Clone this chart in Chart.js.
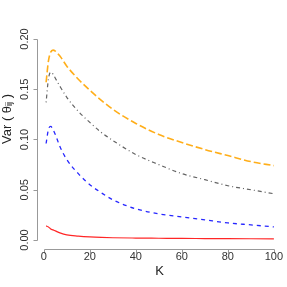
<!DOCTYPE html>
<html>
<head>
<meta charset="utf-8">
<script src="https://cdn.jsdelivr.net/npm/chart.js@4/dist/chart.umd.min.js"></script>
<style>
  html, body { margin: 0; padding: 0; background: #fff; }
  #wrap { width: 287px; height: 287px; }
</style>
</head>
<body>
<div id="wrap"><canvas id="chartVar" width="287" height="287"></canvas></div>
<script>
// K values shared by every series
var kValues = [1, 2, 3, 4, 5, 7, 10, 15, 20, 25, 30, 40, 50, 60, 70, 80, 90, 100];

var varOrange = [0.157, 0.178, 0.187, 0.189, 0.188, 0.183, 0.173, 0.160, 0.149, 0.139, 0.130, 0.116, 0.105, 0.097, 0.090, 0.084, 0.078, 0.074];
var varGray   = [0.137, 0.160, 0.167, 0.165, 0.161, 0.153, 0.142, 0.128, 0.117, 0.107, 0.099, 0.085, 0.075, 0.066, 0.060, 0.054, 0.050, 0.046];
var varBlue   = [0.096, 0.110, 0.113, 0.110, 0.105, 0.093, 0.080, 0.066, 0.055, 0.047, 0.040, 0.031, 0.026, 0.023, 0.020, 0.017, 0.015, 0.013];
var varRed    = [0.014, 0.013, 0.011, 0.010, 0.009, 0.007, 0.005, 0.0038, 0.003, 0.0025, 0.0022, 0.0019, 0.0017, 0.0015, 0.0014, 0.0013, 0.0012, 0.0011];

var xTicks = [0, 20, 40, 60, 80, 100];
var yTicks = [0.00, 0.05, 0.10, 0.15, 0.20];

function toPoints(values) {
    return kValues.map(function (k, i) { return { x: k, y: values[i] }; });
}

function series(values, color, width, dash) {
    return {
        data: toPoints(values),
        borderColor: color,
        borderWidth: width,
        borderDash: dash,
        pointRadius: 0,
        fill: false,
        cubicInterpolationMode: 'monotone'
    };
}

// R style axes: detached lines spanning the tick range, rotated y labels
var rAxes = {
    id: 'rAxes',
    afterDraw: function (chart) {
        var ctx = chart.ctx;
        var xs = chart.scales.x;
        var ys = chart.scales.y;
        var area = chart.chartArea;
        var axisY = area.bottom + 1;
        var axisX = area.left;

        ctx.save();
        ctx.strokeStyle = '#999';
        ctx.lineWidth = 1;
        ctx.fillStyle = '#333';
        ctx.font = '11px "Liberation Sans", Arial, sans-serif';

        // x axis
        var x0 = Math.round(xs.getPixelForValue(xTicks[0])) + 0.5;
        var x1 = Math.round(xs.getPixelForValue(xTicks[xTicks.length - 1])) + 0.5;
        ctx.beginPath();
        ctx.moveTo(x0, axisY + 0.5);
        ctx.lineTo(x1, axisY + 0.5);
        xTicks.forEach(function (t) {
            var px = Math.round(xs.getPixelForValue(t)) + 0.5;
            ctx.moveTo(px, axisY + 0.5);
            ctx.lineTo(px, axisY + 4.5);
        });
        ctx.stroke();
        ctx.textAlign = 'center';
        ctx.textBaseline = 'middle';
        xTicks.forEach(function (t) {
            ctx.fillText(String(t), xs.getPixelForValue(t), axisY + 8);
        });

        // y axis
        var y0 = Math.round(ys.getPixelForValue(yTicks[0])) + 0.5;
        var y1 = Math.round(ys.getPixelForValue(yTicks[yTicks.length - 1])) + 0.5;
        ctx.beginPath();
        ctx.moveTo(axisX + 0.5, y0);
        ctx.lineTo(axisX + 0.5, y1);
        yTicks.forEach(function (t) {
            var py = Math.round(ys.getPixelForValue(t)) + 0.5;
            ctx.moveTo(axisX + 0.5, py);
            ctx.lineTo(axisX - 3.5, py);
        });
        ctx.stroke();
        yTicks.forEach(function (t) {
            ctx.save();
            ctx.translate(axisX - 12, ys.getPixelForValue(t));
            ctx.rotate(-Math.PI / 2);
            ctx.fillText(t.toFixed(2), 0, 0);
            ctx.restore();
        });

        // axis titles
        ctx.fillStyle = '#222';
        ctx.font = '13px "Liberation Sans", Arial, sans-serif';
        ctx.fillText('K', (x0 + x1) / 2, 271);

        ctx.save();
        ctx.translate(7, 119);
        ctx.rotate(-Math.PI / 2);
        var big = '13px "Liberation Sans", Arial, sans-serif';
        var small = '9px "Liberation Sans", Arial, sans-serif';
        var parts = [['Var ( \u03b8', big, 0], ['ij', small, 3], [' )', big, 0]];
        var total = 0;
        parts.forEach(function (p) { ctx.font = p[1]; total += ctx.measureText(p[0]).width; });
        var pos = -total / 2;
        ctx.textAlign = 'left';
        parts.forEach(function (p) {
            ctx.font = p[1];
            ctx.fillText(p[0], pos, p[2]);
            pos += ctx.measureText(p[0]).width;
        });
        ctx.restore();

        ctx.restore();
    }
};

new Chart(document.getElementById('chartVar'), {
    type: 'line',
    data: {
        datasets: [
            series(varRed, 'rgba(255,0,0,0.85)', 1.2, []),
            series(varBlue, 'rgba(0,0,255,0.85)', 1.3, [4, 4]),
            series(varGray, 'rgba(60,60,60,0.8)', 1.2, [1, 3, 4, 3]),
            series(varOrange, 'rgba(255,165,0,0.9)', 1.6, [7, 3])
        ]
    },
    options: {
        responsive: false,
        animation: false,
        layout: { padding: { left: 37, right: 4, top: 31, bottom: 39 } },
        plugins: { legend: { display: false }, tooltip: { enabled: false } },
        scales: {
            x: { type: 'linear', display: false, min: -2.96, max: 103.96 },
            y: { type: 'linear', display: false, min: -0.008, max: 0.208 }
        }
    },
    plugins: [rAxes]
});
</script>
</body>
</html>
